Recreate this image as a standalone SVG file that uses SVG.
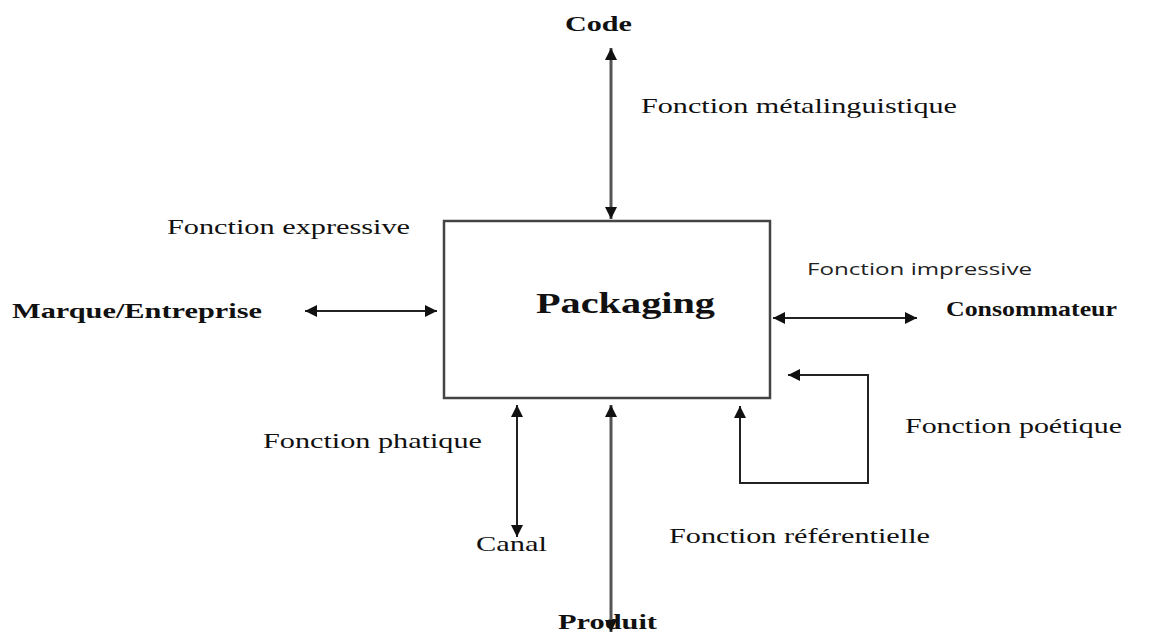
<svg xmlns="http://www.w3.org/2000/svg" width="1149" height="632" viewBox="0 0 1149 632">
<style>
.t{font-family:"Liberation Serif","Times New Roman",serif;font-size:21px;fill:#111}
.b{font-weight:bold}
.s{font-family:"Open Sans","Liberation Sans",sans-serif;font-size:17px;fill:#222}
.ln{stroke:#222;stroke-width:2;fill:none}
.g{stroke:#555;stroke-width:3;fill:none}
</style>
<defs>
<marker id="ah2" viewBox="0 0 10 10" refX="10" refY="5" markerWidth="14" markerHeight="12" markerUnits="userSpaceOnUse" orient="auto-start-reverse">
<path d="M0,0 L10,5 L0,10 z" fill="#111"/>
</marker>
</defs>
<rect width="1149" height="632" fill="#fff"/>
<g id="packaging">
<rect x="444" y="221" width="326" height="177" fill="#fff" stroke="#444" stroke-width="2.5"/>
<text class="t b" x="536" y="313" style="font-size:30px" textLength="179" lengthAdjust="spacingAndGlyphs">Packaging</text>
</g>
<g id="code"><text class="t b" x="565" y="31" textLength="67" lengthAdjust="spacingAndGlyphs">Code</text></g>
<g id="marque"><text class="t b" x="12" y="318" textLength="250" lengthAdjust="spacingAndGlyphs">Marque/Entreprise</text></g>
<g id="consommateur"><text class="t b" x="946" y="316" textLength="171" lengthAdjust="spacingAndGlyphs">Consommateur</text></g>
<g id="canal"><text class="t" x="476" y="551" textLength="71" lengthAdjust="spacingAndGlyphs">Canal</text></g>
<g id="produit"><text class="t b" x="558" y="629" textLength="99" lengthAdjust="spacingAndGlyphs">Produit</text></g>
<g id="connectors">
<line class="g" x1="611" y1="48" x2="611" y2="219" marker-start="url(#ah2)" marker-end="url(#ah2)"/>
<line class="ln" x1="305" y1="311" x2="437" y2="311" marker-start="url(#ah2)" marker-end="url(#ah2)"/>
<line class="ln" x1="773" y1="318" x2="917" y2="318" marker-start="url(#ah2)" marker-end="url(#ah2)"/>
<line class="ln" x1="517" y1="405" x2="517" y2="537" marker-start="url(#ah2)" marker-end="url(#ah2)"/>
<line class="g" x1="611" y1="405" x2="611" y2="632" marker-start="url(#ah2)" marker-end="url(#ah2)"/>
<polyline class="ln" points="740,406 740,483 868,483 868,375 788,375" marker-start="url(#ah2)" marker-end="url(#ah2)"/>
<text class="t" x="641" y="113" textLength="316" lengthAdjust="spacingAndGlyphs">Fonction métalinguistique</text>
<text class="t" x="167" y="234" textLength="243" lengthAdjust="spacingAndGlyphs">Fonction expressive</text>
<text class="s" x="807" y="275" textLength="225" lengthAdjust="spacingAndGlyphs">Fonction impressive</text>
<text class="t" x="905" y="433" textLength="217" lengthAdjust="spacingAndGlyphs">Fonction poétique</text>
<text class="t" x="263" y="448" textLength="219" lengthAdjust="spacingAndGlyphs">Fonction phatique</text>
<text class="t" x="669" y="543" textLength="261" lengthAdjust="spacingAndGlyphs">Fonction référentielle</text>
</g>
</svg>
